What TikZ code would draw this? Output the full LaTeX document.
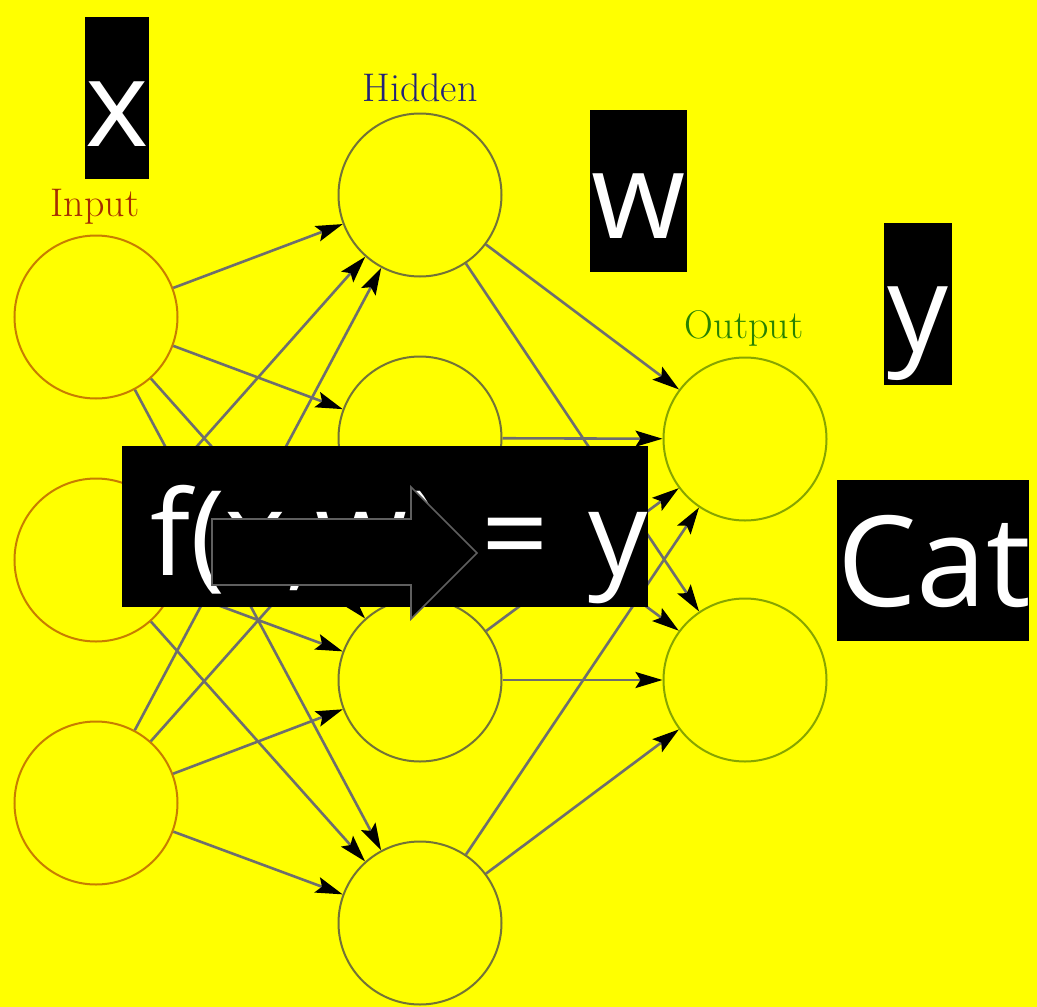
\documentclass[tikz,border=0pt]{standalone}
\usepackage{fontspec}
\usetikzlibrary{arrows.meta}
\newfontfamily\boxfont{Open Sans}
\definecolor{bgyellow}{RGB}{255,255,0}
\definecolor{inred}{RGB}{165,45,0}
\definecolor{hidblue}{RGB}{35,35,120}
\definecolor{outgreen}{RGB}{40,130,0}
\definecolor{incircle}{RGB}{200,125,0}
\definecolor{hidcircle}{RGB}{115,115,55}
\definecolor{outcircle}{RGB}{135,165,0}
\definecolor{linkgray}{RGB}{110,110,110}
\definecolor{arrowgray}{RGB}{95,95,95}

\begin{document}
\begin{tikzpicture}[x=1pt,y=-1pt,
  neuron/.style={circle,draw,line width=2pt,minimum size=163pt,inner sep=0pt},
  link/.style={draw=linkgray,line width=2.6pt,-{Stealth[length=27pt,width=16pt,inset=5pt,black]}},
  layertext/.style={anchor=base,font=\fontsize{40}{40}\selectfont},
  blackbox/.style={fill=black,text=white,inner sep=0pt,anchor=base,align=center,
    font=\boxfont\fontsize{121}{121}\selectfont}]
\fill[bgyellow] (0,0) rectangle (1037,1007);

% input layer
\node[neuron,draw=incircle] (i1) at (96,317) {};
\node[neuron,draw=incircle] (i2) at (96,560) {};
\node[neuron,draw=incircle] (i3) at (96,803) {};
\node[layertext,text=inred] (inlbl) at (95,216) {Input};

% hidden layer
\node[neuron,draw=hidcircle] (h1) at (420,195) {};
\node[neuron,draw=hidcircle] (h2) at (420,438) {};
\node[neuron,draw=hidcircle] (h3) at (420,680) {};
\node[neuron,draw=hidcircle] (h4) at (420,923) {};
\node[layertext,text=hidblue] (hidlbl) at (420,101) {Hidden};

% output layer
\node[neuron,draw=outcircle] (o1) at (745,439) {};
\node[neuron,draw=outcircle] (o2) at (745,680) {};
\node[layertext,text=outgreen] (outlbl) at (744,338) {Output};

\foreach \i in {1,2,3}
  \foreach \h in {1,...,4}
    \draw[link] (i\i) -- (h\h);
\foreach \h in {1,...,4}
  \foreach \o in {1,2}
    \draw[link] (h\h) -- (o\o);

% black text boxes
\node[blackbox,text width=64pt,text height=129pt,text depth=33pt] (xbox) at (117,146) {x};
\node[blackbox,text width=97pt,text height=128pt,text depth=34pt] (wbox) at (638.5,238) {w};
\node[blackbox,text width=68pt,text height=128pt,text depth=34pt] (ybox) at (918,351) {y};
\node[blackbox,text width=192pt,text height=126pt,text depth=35pt,
  font=\boxfont\fontsize{126}{126}\selectfont] (catbox) at (933,606) {Cat};
\node[blackbox,text width=526pt,text height=129pt,text depth=32pt,align=left,
  font=\boxfont\fontsize{118}{118}\selectfont] (fbox) at (385,575) {\hspace*{28pt}f(x,w) = y};

% block arrow
\draw[draw=arrowgray,fill=black,line width=1.6pt]
  (212,519) -- (411,519) -- (411,487) -- (477,553) -- (411,619) -- (411,585) -- (212,585) -- cycle;
\end{tikzpicture}
\end{document}
